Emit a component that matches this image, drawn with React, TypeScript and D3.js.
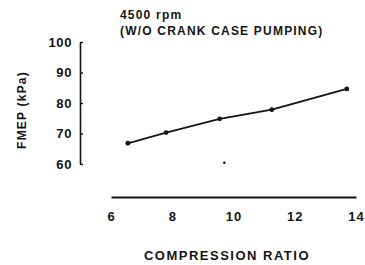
import React, { useEffect, useRef } from 'react';
import * as d3 from 'd3';

const compressionRatio = [6.55, 7.8, 9.55, 11.25, 13.7];
const fmep = [66.8, 70.3, 74.8, 77.8, 84.6];
const strayMark = { x: 9.7, y: 60.4 };
const xTicks = [6, 8, 10, 12, 14];
const yTicks = [60, 70, 80, 90, 100];
const titleLines = ['4500 rpm', '(W/O CRANK CASE PUMPING)'];

const App: React.FC = () => {
    const ref = useRef<SVGSVGElement>(null);

    useEffect(() => {
        if (!ref.current) return;
        const svg = d3.select(ref.current);
        svg.selectAll('*').remove();

        const font = "'Liberation Sans', Arial, sans-serif";
        const ink = '#151515';

        const x = d3.scaleLinear().domain([6, 14]).range([111, 356]);
        const y = d3.scaleLinear().domain([60, 100]).range([164, 42]);

        // y axis (ticks point inward)
        const ya = svg.append('g')
            .attr('transform', 'translate(80,0)')
            .call(d3.axisLeft(y).tickValues(yTicks).tickSizeInner(-3).tickSizeOuter(0).tickPadding(8).tickFormat(d3.format('d')));
        ya.select('.domain').attr('stroke', ink).attr('stroke-width', 1.6);
        ya.selectAll('.tick line').attr('stroke', ink).attr('stroke-width', 1.4);
        ya.selectAll('.tick text')
            .attr('fill', ink).attr('font-family', font).attr('font-weight', 'bold')
            .attr('font-size', 13).attr('letter-spacing', 0.6);

        // x axis, detached below the plot
        const xa = svg.append('g')
            .attr('transform', 'translate(0,197)')
            .call(d3.axisBottom(x).tickValues(xTicks).tickSize(0).tickPadding(15).tickFormat(d3.format('d')));
        xa.select('.domain').attr('stroke', ink).attr('stroke-width', 2);
        xa.selectAll('.tick text')
            .attr('fill', ink).attr('font-family', font).attr('font-weight', 'bold')
            .attr('font-size', 13).attr('letter-spacing', 1);

        const pts = compressionRatio.map((c, i) => [c, fmep[i]] as [number, number]);

        svg.append('path')
            .datum(pts)
            .attr('fill', 'none')
            .attr('stroke', ink)
            .attr('stroke-width', 1.8)
            .attr('d', d3.line<[number, number]>().x(d => x(d[0])).y(d => y(d[1])));

        svg.selectAll('circle.pt')
            .data(pts)
            .enter().append('circle')
            .attr('class', 'pt')
            .attr('cx', d => x(d[0]))
            .attr('cy', d => y(d[1]))
            .attr('r', 2.4)
            .attr('fill', ink);

        svg.append('circle')
            .attr('cx', x(strayMark.x))
            .attr('cy', y(strayMark.y))
            .attr('r', 1.3)
            .attr('fill', ink);

        // title
        svg.selectAll('text.title')
            .data(titleLines)
            .enter().append('text')
            .attr('class', 'title')
            .attr('x', 120)
            .attr('y', (_, i) => 19 + i * 16)
            .attr('fill', ink)
            .attr('font-family', font)
            .attr('font-weight', 'bold')
            .attr('font-size', 12)
            .attr('letter-spacing', 1.2)
            .text(d => d);

        svg.append('text')
            .attr('x', 227)
            .attr('y', 260)
            .attr('text-anchor', 'middle')
            .attr('fill', ink)
            .attr('font-family', font)
            .attr('font-weight', 'bold')
            .attr('font-size', 13)
            .attr('letter-spacing', 1.5)
            .text('COMPRESSION RATIO');

        svg.append('text')
            .attr('transform', 'translate(26,110) rotate(-90)')
            .attr('text-anchor', 'middle')
            .attr('fill', ink)
            .attr('font-family', font)
            .attr('font-weight', 'bold')
            .attr('font-size', 12)
            .attr('letter-spacing', 1.2)
            .text('FMEP (kPa)');
    }, []);

    return (
        <svg ref={ref} width={365} height={265}
            style={{ position: 'absolute', left: 0, top: 0, background: '#fff' }} />
    );
};

export default App;
